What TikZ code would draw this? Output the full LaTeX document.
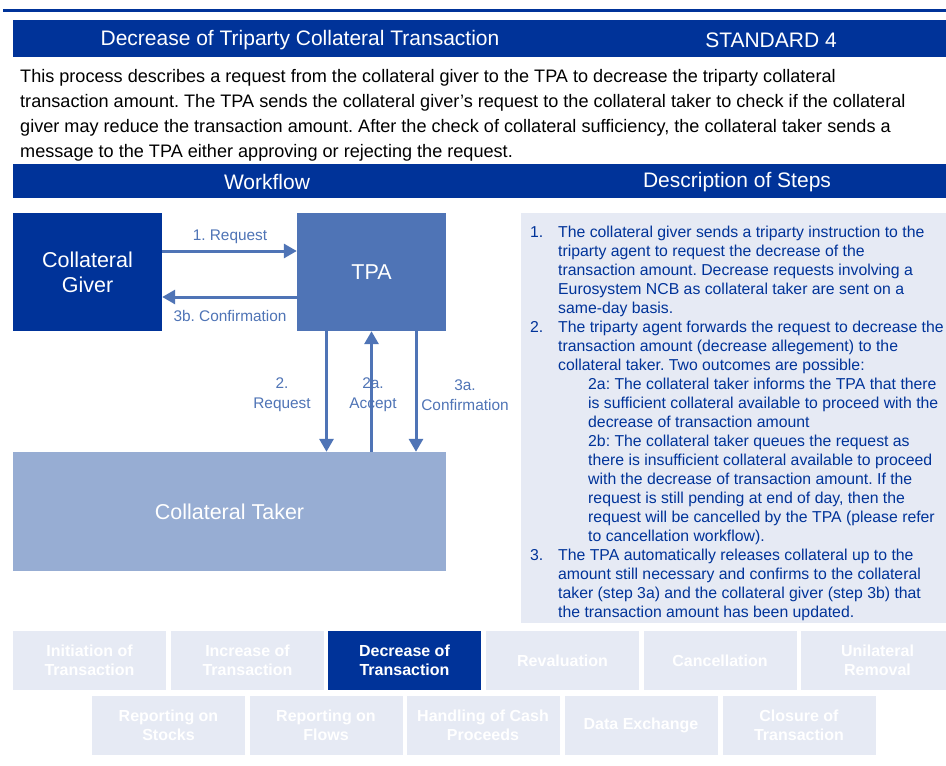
\documentclass[tikz,border=0pt]{standalone}
\usepackage{fontspec}
\setmainfont{Liberation Sans}
\usepackage{tikz}
\usetikzlibrary{positioning}
\usetikzlibrary{arrows.meta}
\frenchspacing
\definecolor{ecbblue}{RGB}{0,51,153}
\definecolor{tpablue}{RGB}{79,116,182}
\definecolor{takerblue}{RGB}{151,173,211}
\definecolor{panelgrey}{RGB}{230,234,244}
\tikzstyle{bartext}=[text=white, inner sep=0, font=\fontsize{21}{25}\selectfont]
\tikzstyle{actor}=[inner sep=0, text=white, align=center, font=\fontsize{21.5}{25}\selectfont]
\tikzstyle{msg}=[-{Triangle[length=13pt,width=14pt]}, tpablue, line width=3pt]
\tikzstyle{msglabel}=[inner sep=0, text=tpablue, align=center, font=\fontsize{15.4}{20}\selectfont]
\tikzstyle{steptext}=[inner sep=0, anchor=base west, align=left, text=ecbblue, font=\fontsize{15.8}{19}\selectfont]
\tikzstyle{tab}=[fill=panelgrey, text=white, inner sep=0, minimum width=153, minimum height=59, align=center, font=\bfseries\fontsize{16}{19}\selectfont]
\tikzstyle{tab_active}=[tab, fill=ecbblue]

\begin{document}
\begin{tikzpicture}[x=1pt,y=-1pt]
  \useasboundingbox[fill=white] (0,0) rectangle (946,766);
  \clip (0,0) rectangle (946,766);
  % heading
  \fill[ecbblue] (3,9) rectangle (946,11.5);
  \fill[ecbblue] (13,20) rectangle (946,57);
  \node[bartext] (title) at (300,40.5){Decrease of Triparty Collateral Transaction};
  \node[bartext] (standard) at (771,40.5){STANDARD 4};
  % anchor base = last line
  \node[inner sep=0, anchor=base west, align=left, font=\fontsize{18.1}{24.7}\selectfont] (intro) at (20,157){This process describes a request from the collateral giver to the TPA to decrease the triparty collateral\\transaction amount. The TPA sends the collateral giver's request to the collateral taker to check if the collateral\\giver may reduce the transaction amount. After the check of collateral sufficiency, the collateral taker sends a\\message to the TPA either approving or rejecting the request.};
  \fill[ecbblue] (13,164) rectangle (946,198);
  \node[bartext] (workflow) at (267,182){Workflow};
  \node[bartext] (steps) at (737,182){Description of Steps};
  % workflow
  \node[actor, fill=ecbblue, minimum width=149, minimum height=118] (giver) at (87.5,272){Collateral\\Giver};
  \node[actor, fill=tpablue, minimum width=149, minimum height=118] (tpa) at (371.5,272){TPA};
  \node[actor, fill=takerblue, minimum width=433, minimum height=119] (taker) at (229.5,511.5){Collateral Taker};
  \draw[msg] ([yshift=21pt]giver.east) -- ([yshift=21pt]tpa.west);
  \draw[msg] ([yshift=-25pt]tpa.west) -- ([yshift=-25pt]giver.east);
  \draw[msg] ([xshift=-45pt]tpa.south) -- ([xshift=-45pt]tpa.south |- taker.north);
  \draw[msg] (tpa.south |- taker.north) -- (tpa.south);
  \draw[msg] ([xshift=44.5pt]tpa.south) -- ([xshift=44.5pt]tpa.south |- taker.north);
  \node[msglabel] (lreq) at (230,237){1. Request};
  \node[msglabel] (lconfb) at (230,316){3b. Confirmation};
  \node[msglabel] (lreqt) at (282,395){2.\\Request};
  \node[msglabel] (laccept) at (373,395){2a.\\Accept};
  \node[msglabel] (lconfa) at (465,395){3a.\\Confirmation};
  % description of steps
  \node[fill=panelgrey, inner sep=0, minimum width=425, minimum height=410] (panel) at (733.5,418){};
  \node[steptext] (n1) at (530,237){1.};
  \node[steptext] (s1) at (558,313){The collateral giver sends a triparty instruction to the\\triparty agent to request the decrease of the\\transaction amount. Decrease requests involving a\\Eurosystem NCB as collateral taker are sent on a\\same-day basis.};
  \node[steptext] (n2) at (530,332){2.};
  \node[steptext] (s2) at (558,370){The triparty agent forwards the request to decrease the\\transaction amount (decrease allegement) to the\\collateral taker. Two outcomes are possible:};
  \node[steptext] (s2a) at (588,427){2a: The collateral taker informs the TPA that there\\is sufficient collateral available to proceed with the\\decrease of transaction amount};
  \node[steptext] (s2b) at (588,541){2b: The collateral taker queues the request as\\there is insufficient collateral available to proceed\\with the decrease of transaction amount. If the\\request is still pending at end of day, then the\\request will be cancelled by the TPA (please refer\\to cancellation workflow).};
  \node[steptext] (n3) at (530,560){3.};
  \node[steptext] (s3) at (558,617){The TPA automatically releases collateral up to the\\amount still necessary and confirms to the collateral\\taker (step 3a) and the collateral giver (step 3b) that\\the transaction amount has been updated.};
  % navigation
  \node[tab] (tab0) at (89.5,660.5){Initiation of\\Transaction};
  \node[tab] (tab1) at (247.5,660.5){Increase of\\Transaction};
  \node[tab_active] (tab2) at (404.5,660.5){Decrease of\\Transaction};
  \node[tab] (tab3) at (562.5,660.5){Revaluation};
  \node[tab] (tab4) at (720,660.5){Cancellation};
  \node[tab] (tab5) at (877.5,660.5){Unilateral\\Removal};
  \node[tab] (tab6) at (168.5,725.5){Reporting on\\Stocks};
  \node[tab] (tab7) at (326,725.5){Reporting on\\Flows};
  \node[tab] (tab8) at (483,725.5){Handling of Cash\\Proceeds};
  \node[tab] (tab9) at (641,725.5){Data Exchange};
  \node[tab] (tab10) at (799,725.5){Closure of\\Transaction};
\end{tikzpicture}
\end{document}
